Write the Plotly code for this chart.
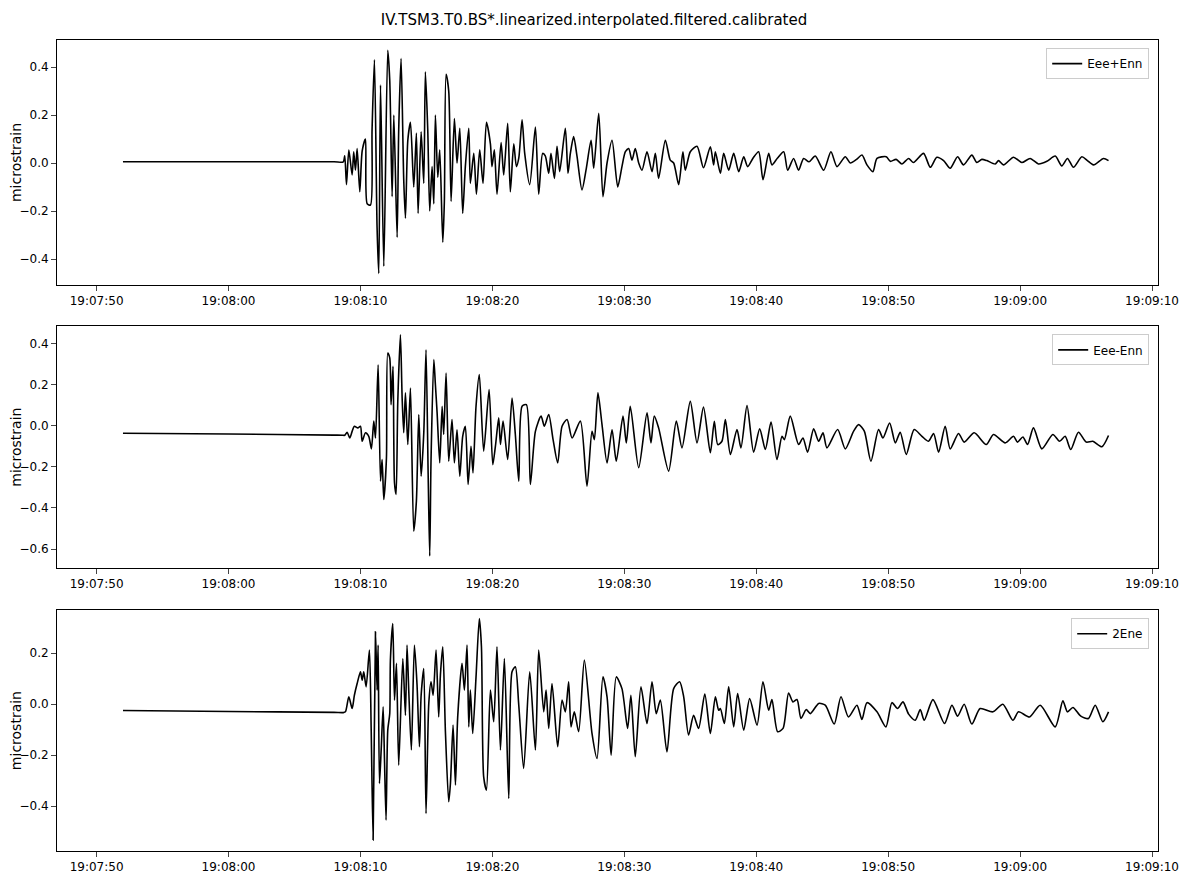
import pandas as pd
import plotly.graph_objects as go
from plotly.subplots import make_subplots

# seconds after 19:07:50, values in microstrain
t_sum = [2.0, 10.0, 18.0, 18.7, 18.81, 18.94, 19.12, 19.37, 19.49, 19.62, 19.75, 19.95, 20.13, 20.38, 20.51, 20.76, 20.88,
         21.06, 21.26, 21.39, 21.52, 21.77, 22.07, 22.22, 22.40, 22.53, 22.78, 22.90, 23.08, 23.28,
         23.41, 23.59, 23.79, 24.04, 24.24, 24.37, 24.60, 24.80, 24.92, 25.10, 25.25, 25.43, 25.56,
         25.68, 25.86, 26.01, 26.24, 26.36, 26.49, 26.69, 26.87, 27.12, 27.32, 27.53, 27.75, 27.95,
         28.21, 28.33, 28.59, 28.79, 29.04, 29.29, 29.55, 29.85, 29.97, 30.15, 30.35, 30.66, 30.86,
         31.16, 31.36, 31.62, 31.82, 32.00, 32.25, 32.45, 32.83, 33.26, 33.51, 33.81, 34.01, 34.27,
         34.44, 34.70, 34.90, 35.10, 35.53, 35.73, 35.91, 36.16, 36.41, 36.79, 37.12, 37.48, 37.68,
         38.06, 38.38, 38.69, 39.07, 39.50, 39.82, 40.08, 40.33, 40.58, 40.83, 41.09, 41.34, 41.72,
         42.10, 42.35, 42.60, 43.11, 43.48, 43.74, 44.12, 44.44, 44.62, 45.00, 45.51, 46.0,
         46.52, 46.77, 46.90, 47.28, 47.53, 47.91, 48.29, 48.67, 49.05, 49.35, 49.75, 50.18, 50.51, 50.94,
         51.19, 51.6, 52.08, 52.38, 52.83, 53.21, 53.59, 54.0, 54.47, 55.11, 55.66, 56.12, 56.75, 57.13, 57.6, 58.01,
         58.39, 58.84, 59.15, 59.85, 60.16, 60.6, 61.04, 61.55, 61.92, 62.68, 63.19, 63.69, 64.20, 64.70,
         65.26, 65.71, 66.34, 66.72, 67.1, 67.48, 68.11, 68.36, 68.74, 69.50, 70.13, 70.76, 71.39, 72.03,
         72.66, 73.16, 73.59, 74.04, 74.68, 75.1, 75.56, 76.32, 76.70]
v_sum = [0.005, 0.005, 0.005, 0.005, 0.03, -0.09, 0.054, -0.05, 0.047, -0.03, 0.06, -0.12, 0.05, 0.10, -0.17, -0.175, 0.138,
         0.43, -0.27, -0.46, 0.325, -0.43, 0.47, 0.345, -0.14, 0.20, -0.31, 0.138, 0.435, -0.07,
         -0.23, 0.095, 0.17, -0.10, 0.125, -0.21, 0.13, -0.085, 0.38, 0.14, -0.20, -0.015, -0.17,
         0.20, -0.06, 0.055, -0.33, -0.16, 0.37, 0.30, -0.16, 0.185, 0.0, 0.145, -0.21, -0.015,
         0.145, -0.085, 0.04, -0.13, 0.055, -0.085, 0.17, 0.08, -0.015, 0.055, -0.13, 0.085, -0.05,
         0.165, -0.12, 0.08, -0.015, 0.02, 0.18, 0.04, -0.09, 0.15, -0.13, 0.04, 0.03, -0.043,
         0.04, -0.064, 0.07, -0.036, 0.145, -0.043, 0.04, 0.11, 0.03, -0.112, -0.022, 0.095, -0.022,
         0.207, -0.14, 0.0, 0.095, -0.10, -0.015, 0.047, 0.06, 0.012, 0.06, 0.0, -0.03, 0.047,
         -0.036, 0.04, -0.064, 0.095, 0.012, 0.0, -0.09, 0.047, -0.03, 0.047, 0.07, -0.02,
         0.068, -0.008, 0.047, -0.043, 0.04, -0.03, 0.04, -0.036, 0.026, -0.015, 0.02, 0.047, -0.07, 0.04,
         -0.008, 0.02, 0.047, -0.03, 0.019, -0.03, 0.019, 0.005, 0.029, -0.03, 0.047, -0.015, 0.026, 0.0, 0.015, 0.033,
         -0.008, -0.036, 0.019, 0.026, 0.007, 0.015, -0.004, 0.019, 0.002, 0.04, -0.018, 0.024, 0.01, -0.022,
         0.026, -0.008, 0.033, 0.002, 0.015, 0.01, -0.004, 0.01, -0.008, 0.024, 0.002, 0.019, -0.004, 0.007,
         0.029, -0.012, 0.019, -0.018, 0.026, 0.01, -0.008, 0.019, 0.01]

t_diff = [2.0, 10.0, 18.0, 18.7, 18.81, 18.99, 19.19, 19.37, 19.54, 19.80, 20.00, 20.13, 20.38, 20.63, 20.83, 21.01, 21.14,
          21.34, 21.52, 21.64, 21.77, 21.97, 22.07, 22.22, 22.32, 22.47, 22.58, 22.70, 22.83, 23.03,
          23.16, 23.28, 23.41, 23.59, 23.79, 24.04, 24.24, 24.42, 24.60, 24.80, 24.97, 25.13, 25.25,
          25.35, 25.56, 25.68, 25.81, 26.01, 26.19, 26.31, 26.49, 26.69, 26.94, 27.12, 27.32, 27.53,
          27.75, 27.95, 28.16, 28.38, 28.53, 28.76, 29.01, 29.34, 29.75, 30.03, 30.23, 30.48, 30.61,
          30.81, 31.16, 31.49, 31.74, 32.00, 32.25, 32.58, 32.88, 33.26, 33.69, 33.94, 34.27, 34.60,
          34.95, 35.28, 35.66, 36.04, 36.67, 37.17, 37.55, 37.73, 38.00, 38.31, 38.69, 39.07, 39.39,
          39.90, 40.15, 40.45, 41.09, 41.72, 42.02, 42.27, 42.60, 43.36, 43.94, 44.37, 45.00, 45.51, 46.0,
          46.52, 46.82, 47.08, 47.40, 47.66, 48.04, 48.54, 48.84, 49.30, 49.80, 50.26, 50.69, 51.12,
          51.57, 51.95, 52.13, 52.58, 53.21, 53.54, 53.89, 54.35, 54.73, 55.06, 55.36, 56.17, 56.75,
          57.38, 57.76, 58.19, 58.69, 59.27, 59.60, 60.11, 60.54, 60.91, 61.37, 61.97, 62.56, 63.06,
          63.44, 63.82, 64.32, 64.70, 65.33, 65.76, 66.52, 67.43, 67.98, 68.87, 69.50, 69.80, 70.21,
          70.56, 71.01, 71.65, 72.48, 72.99, 73.41, 73.84, 74.42, 75.01, 75.51, 76.19, 76.70]
v_diff = [-0.037, -0.041, -0.046, -0.047, -0.047, -0.032, -0.06, -0.028, -0.003, -0.011, -0.003, -0.076, -0.035, -0.052, -0.113,
          0.022, -0.06, 0.296, -0.27, -0.165, -0.359, -0.157, 0.353, 0.329, 0.102, 0.288, -0.278,
          -0.335, 0.118, 0.442, 0.134, -0.035, 0.159, -0.092, 0.183, -0.513, -0.367, 0.054, -0.246,
          -0.035, 0.369, -0.23, -0.634, -0.165, 0.321, 0.20, 0.062, -0.181, 0.094, -0.043, 0.256,
          -0.173, 0.03, -0.181, -0.02, -0.246, -0.052, -0.003, -0.286, -0.10, -0.23, 0.094, 0.248,
          -0.124, 0.175, -0.19, -0.10, 0.038, -0.092, 0.022, -0.165, 0.134, -0.043, -0.27, 0.094,
          0.102, -0.286, -0.028, 0.046, -0.003, 0.054, -0.068, -0.181, -0.003, 0.03, -0.06, 0.022,
          -0.294, -0.028, -0.068, 0.159, 0.005, -0.181, -0.02, -0.173, 0.046, -0.084, 0.094, -0.205,
          0.062, -0.084, 0.046, -0.011, -0.221, 0.022, -0.108, 0.118, -0.084, 0.09,
          -0.132, 0.021, -0.092, -0.076, 0.029, -0.14, -0.019, -0.108, 0.097, -0.129, -0.016, -0.116,
          0.017, -0.165, -0.052, -0.068, 0.046, -0.092, -0.06, -0.129, -0.016, -0.076, -0.035, -0.108,
          -0.019, -0.113, -0.027, 0.005, -0.027, -0.173, -0.019, -0.06, 0.013, -0.084, -0.032, -0.14,
          -0.019, -0.052, -0.076, -0.038, -0.129, -0.003, -0.113, -0.038, -0.08, -0.035, -0.092,
          -0.043, -0.084, -0.052, -0.08, -0.055, -0.092, -0.011, -0.113, -0.043, -0.076, -0.052,
          -0.116, -0.032, -0.08, -0.076, -0.103, -0.048]

t_ne = [2.0, 10.0, 18.0, 18.7, 18.86, 19.12, 19.37, 19.54, 19.75, 20.00, 20.13, 20.25, 20.43, 20.68, 20.81, 20.96, 21.14,
        21.26, 21.34, 21.44, 21.57, 21.72, 21.82, 21.94, 22.07, 22.22, 22.27, 22.45, 22.58, 22.73,
        22.90, 23.21, 23.41, 23.53, 23.66, 23.86, 24.09, 24.29, 24.47, 24.60, 24.80, 24.97, 25.18,
        25.35, 25.51, 25.73, 25.93, 26.06, 26.24, 26.44, 26.69, 26.82, 27.02, 27.20, 27.37, 27.70,
        27.88, 28.08, 28.21, 28.33, 28.51, 28.76, 29.01, 29.17, 29.34, 29.55, 29.85, 30.10, 30.35,
        30.61, 30.91, 31.24, 31.49, 31.74, 32.00, 32.37, 32.83, 33.26, 33.51, 33.89, 34.07, 34.27,
        34.52, 34.95, 35.28, 35.53, 35.78, 35.96, 36.21, 36.54, 36.97, 37.55, 37.93, 38.38, 38.69,
        39.00, 39.39, 39.82, 40.25, 40.50, 40.83, 41.26, 41.72, 42.10, 42.42, 42.73, 43.23, 43.74,
        44.19, 44.50, 44.87, 45.25, 45.63, 46.1,
        46.52, 46.90, 47.15, 47.28, 47.58, 47.91, 48.29, 48.59, 49.05, 49.50, 50.06, 50.51, 50.94,
        51.19, 51.62, 52.03, 52.45, 52.78, 53.09, 53.39, 53.79, 54.10, 54.73, 55.23, 55.91, 56.42,
        56.99, 57.63, 58.01, 58.39, 59.15, 59.83, 60.28, 60.71, 61.12, 61.55, 62.05, 62.43, 62.73,
        63.39, 64.27, 64.83, 65.26, 65.76, 66.34, 66.97, 67.93, 68.69, 69.45, 69.88, 70.71, 71.52,
        72.66, 73.24, 73.59, 74.00, 74.60, 75.18, 75.69, 76.27, 76.70]
v_ne = [-0.025, -0.029, -0.032, -0.033, -0.03, 0.029, -0.017, 0.035, 0.081, 0.127, 0.094, 0.127, 0.068, 0.212, -0.089, -0.533,
        0.284, 0.055, 0.232, -0.311, -0.18, -0.01, -0.213, -0.455, -0.102, -0.037, 0.173, 0.316,
        0.016, 0.16, -0.239, 0.179, -0.044, 0.232, 0.055, -0.18, 0.232, 0.075, -0.167, 0.035, 0.14,
        -0.429, 0.003, 0.088, 0.035, 0.212, -0.05, 0.114, 0.225, -0.108, -0.383, -0.311, -0.082,
        -0.317, -0.05, 0.16, 0.055, 0.232, -0.089, 0.055, -0.115, 0.107, 0.336, 0.225, -0.285,
        -0.337, 0.055, -0.069, 0.225, -0.18, 0.179, -0.37, 0.127, 0.147, -0.004, -0.252, 0.127,
        -0.18, 0.212, -0.03, 0.055, -0.095, 0.081, -0.167, 0.016, -0.03, 0.088, -0.089, -0.03,
        -0.108, 0.173, -0.115, -0.213, 0.107, 0.029, -0.20, 0.107, 0.061, -0.095, 0.035, -0.206,
        0.068, -0.076, 0.088, -0.037, 0.016, -0.187, 0.061, 0.088, 0.029, -0.121, -0.044, -0.095, 0.04,
        -0.115, 0.029, -0.024, -0.017, -0.076, 0.068, -0.089, 0.042, -0.102, 0.022, -0.082, 0.088,
        -0.024, 0.018, -0.108, -0.095, 0.044, 0.009, 0.018, -0.056, -0.021, -0.037, 0.003, -0.004,
        -0.078, 0.029, -0.05, -0.004, -0.06, 0.006, -0.03, -0.089, 0.006, -0.017, 0.009, -0.039,
        -0.063, -0.021, -0.063, 0.018, -0.076, -0.004, -0.047, 0.0, -0.078, -0.017, -0.03, 0.0,
        -0.063, -0.03, -0.05, -0.004, -0.089, 0.013, -0.03, -0.013, -0.047, -0.056, -0.004, -0.069,
        -0.03]

series_names = ["Eee+Enn", "Eee-Enn", "2Ene"]
start = pd.Timestamp("2000-01-01 19:07:50")


def to_time(seconds):
    return [start + pd.Timedelta(seconds=s) for s in seconds]


def main():
    fig = make_subplots(rows=3, cols=1, vertical_spacing=0.05)
    series = [(t_sum, v_sum), (t_diff, v_diff), (t_ne, v_ne)]
    domains = [[0.698, 1.0], [0.349, 0.647], [0.0, 0.297]]
    yranges = [[-0.508, 0.5125], [-0.692, 0.483], [-0.576, 0.369]]
    legends = ["legend", "legend2", "legend3"]

    for i, (t, v) in enumerate(series):
        fig.add_trace(
            go.Scatter(x=to_time(t), y=v, mode="lines", name=series_names[i],
                       line=dict(color="black", width=1.6, shape="spline", smoothing=0.7),
                       legend=legends[i], showlegend=True),
            row=i + 1, col=1,
        )
        fig.update_xaxes(
            range=[start + pd.Timedelta(seconds=-3.0), start + pd.Timedelta(seconds=80.45)],
            tickformat="%H:%M:%S", dtick=10000, tick0=start, automargin=False,
            showline=True, linecolor="black", mirror=True, ticks="outside",
            showgrid=False, zeroline=False, row=i + 1, col=1,
        )
        fig.update_yaxes(
            domain=domains[i], range=yranges[i], dtick=0.2, tickformat=".1f",
            title_text="microstrain", title_standoff=6, automargin=False,
            showline=True, linecolor="black", mirror=True, ticks="outside",
            showgrid=False, zeroline=False, row=i + 1, col=1,
        )

    # page body adds an 8px offset, so the figure is shrunk to keep the axes in place
    legend_style = dict(xanchor="right", yanchor="top", x=0.992, bgcolor="white",
                        bordercolor="#cccccc", borderwidth=1, font=dict(size=12))
    fig.update_layout(
        width=1172, height=870, showlegend=True,
        margin=dict(l=49, r=22, t=32, b=27, autoexpand=False),
        plot_bgcolor="white", paper_bgcolor="white",
        font=dict(family="DejaVu Sans", size=12, color="black"),
        title=dict(text="IV.TSM3.T0.BS*.linearized.interpolated.filtered.calibrated",
                   x=0.5, y=0.993, xanchor="center", font=dict(size=15)),
        legend=dict(y=0.99, **legend_style),
        legend2=dict(y=0.637, **legend_style),
        legend3=dict(y=0.287, **legend_style),
    )
    fig.write_html("out.html")


if __name__ == "__main__":
    main()
